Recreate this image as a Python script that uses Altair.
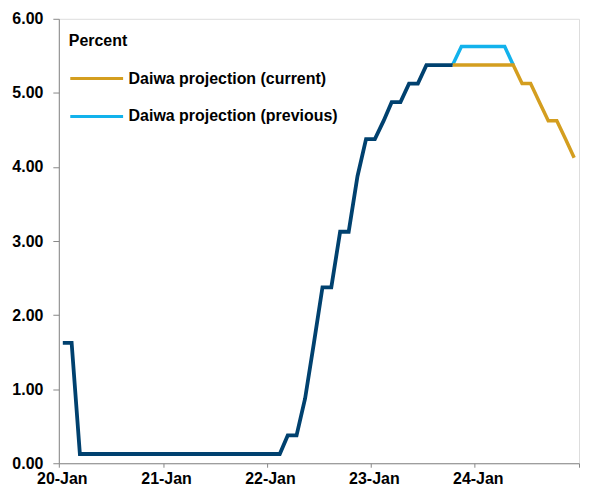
import altair as alt
import pandas as pd

# ---- data ----
actual_start = "2020-01-01"
actual_values = [
    1.625, 1.625, 0.125, 0.125, 0.125, 0.125, 0.125, 0.125, 0.125, 0.125, 0.125, 0.125,  # 2020
    0.125, 0.125, 0.125, 0.125, 0.125, 0.125, 0.125, 0.125, 0.125, 0.125, 0.125, 0.125,  # 2021
    0.125, 0.125, 0.375, 0.375, 0.875, 1.625, 2.375, 2.375, 3.125, 3.125, 3.875, 4.375,  # 2022
    4.375, 4.625, 4.875, 4.875, 5.125, 5.125, 5.375, 5.375, 5.375, 5.375,                # 2023 Jan-Oct
]
proj_start = "2023-10-01"
current_values = [5.375, 5.375, 5.375, 5.375, 5.375, 5.375, 5.375, 5.375,
                  5.125, 5.125, 4.875, 4.625, 4.625, 4.375, 4.125]
previous_values = [5.375, 5.625, 5.625, 5.625, 5.625, 5.625, 5.625, 5.375]
series_names = ["Daiwa projection (current)", "Daiwa projection (previous)"]
y_ticks = [0, 1, 2, 3, 4, 5, 6]
x_ticks = ["2020-01-01T00:00:00", "2021-01-01T00:00:00", "2022-01-01T00:00:00",
           "2023-01-01T00:00:00", "2024-01-01T00:00:00", "2025-01-01T00:00:00"]

NAVY = "#00416F"
GOLD = "#D49E1F"
BLUE = "#12B2EC"
FONT = "Liberation Sans"

mid = pd.Timedelta(days=14)
actual_df = pd.DataFrame({
    "date": pd.date_range(actual_start, periods=len(actual_values), freq="MS") + mid,
    "value": actual_values,
})
cur_df = pd.DataFrame({
    "date": pd.date_range(proj_start, periods=len(current_values), freq="MS") + mid,
    "value": current_values,
    "series": series_names[0],
})
prev_df = pd.DataFrame({
    "date": pd.date_range(proj_start, periods=len(previous_values), freq="MS") + mid,
    "value": previous_values,
    "series": series_names[1],
})
proj_df = pd.concat([prev_df, cur_df], ignore_index=True)

x_scale = alt.Scale(domain=[x_ticks[0], x_ticks[-1]], nice=False)
y_scale = alt.Scale(domain=[0, 6], nice=False)

x_axis = alt.Axis(
    title=None, values=x_ticks,
    labelExpr="year(datum.value) >= 2025 ? '' : timeFormat(datum.value, '%y-%b')",
    grid=False, tickSize=4, labelPadding=3, labelOffset=3,
    labelFont=FONT, labelFontSize=16, labelFontWeight="bold", labelColor="black",
    domainColor="#888888", tickColor="#888888", labelFlush=False, labelOverlap=False,
)
y_axis = alt.Axis(
    title=None, values=y_ticks, format=".2f", grid=False, tickSize=6, labelPadding=10,
    labelFont=FONT, labelFontSize=16, labelFontWeight="bold", labelColor="black",
    domainColor="#888888", tickColor="#888888",
)

color = alt.Color(
    "series:N",
    scale=alt.Scale(domain=series_names, range=[GOLD, BLUE]),
    legend=alt.Legend(
        title="Percent", orient="none", legendX=10, legendY=14,
        titleFont=FONT, titleFontSize=16, titleFontWeight="bold", titleColor="black",
        titlePadding=2,
        labelFont=FONT, labelFontSize=16, labelFontWeight="bold", labelColor="black",
        labelLimit=400,
        symbolType="stroke", symbolSize=2809, symbolStrokeWidth=3,
        rowPadding=2, labelOffset=4, symbolOffset=0,
    ),
)

enc_x = alt.X("date:T", scale=x_scale, axis=x_axis)
enc_y = alt.Y("value:Q", scale=y_scale, axis=y_axis)

prev_line = alt.Chart(proj_df).transform_filter(
    alt.datum.series == series_names[1]
).mark_line(strokeWidth=3.5).encode(x=enc_x, y=enc_y, color=color)
cur_line = alt.Chart(proj_df).transform_filter(
    alt.datum.series == series_names[0]
).mark_line(strokeWidth=3.5).encode(x=enc_x, y=enc_y, color=color)
actual_line = alt.Chart(actual_df).mark_line(strokeWidth=3.8, color=NAVY).encode(
    x=enc_x, y=enc_y,
)

chart = alt.layer(prev_line, cur_line, actual_line).properties(
    width=522, height=446,
    padding={"left": 3, "top": 2, "right": 0, "bottom": 0},
).configure_view(stroke=None).configure(background="white")

chart.save("out.html", embed_options={"renderer": "svg", "actions": False})
